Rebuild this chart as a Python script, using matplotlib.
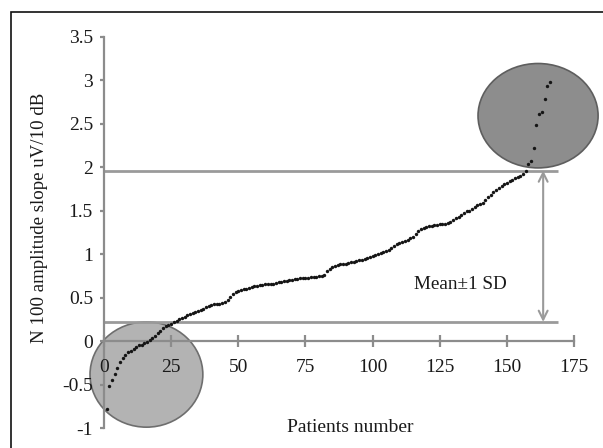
import matplotlib
matplotlib.use("Agg")
import matplotlib.pyplot as plt
from matplotlib.patches import Ellipse, Rectangle

plt.rcParams['font.family'] = ['Liberation Serif', 'DejaVu Serif']
plt.rcParams['axes.unicode_minus'] = False

# ---- data ----
slope_values = [
    -0.78, -0.52, -0.45, -0.38, -0.31, -0.24, -0.20, -0.16, -0.13, -0.11,
    -0.09, -0.07, -0.05, -0.04, -0.02, -0.01, 0.01, 0.03, 0.06, 0.09,
    0.12, 0.15, 0.17, 0.19, 0.20, 0.22, 0.23, 0.25, 0.27, 0.28,
    0.30, 0.31, 0.32, 0.33, 0.35, 0.36, 0.37, 0.39, 0.40, 0.41,
    0.42, 0.43, 0.43, 0.44, 0.45, 0.47, 0.51, 0.54, 0.56, 0.57,
    0.59, 0.60, 0.60, 0.61, 0.62, 0.63, 0.63, 0.64, 0.64, 0.65,
    0.65, 0.66, 0.66, 0.67, 0.68, 0.68, 0.69, 0.69, 0.70, 0.70,
    0.71, 0.71, 0.72, 0.72, 0.73, 0.73, 0.74, 0.74, 0.74, 0.75,
    0.75, 0.76, 0.80, 0.83, 0.85, 0.86, 0.87, 0.88, 0.88, 0.89,
    0.90, 0.91, 0.91, 0.92, 0.93, 0.93, 0.94, 0.96, 0.97, 0.98,
    0.99, 1.00, 1.01, 1.02, 1.03, 1.05, 1.07, 1.09, 1.11, 1.13,
    1.14, 1.15, 1.16, 1.18, 1.20, 1.23, 1.26, 1.29, 1.30, 1.31,
    1.32, 1.32, 1.33, 1.33, 1.34, 1.34, 1.35, 1.36, 1.37, 1.39,
    1.41, 1.43, 1.45, 1.47, 1.49, 1.50, 1.52, 1.54, 1.56, 1.57,
    1.59, 1.62, 1.65, 1.68, 1.71, 1.74, 1.76, 1.78, 1.80, 1.82,
    1.84, 1.85, 1.87, 1.88, 1.90, 1.92, 1.95, 2.04, 2.07, 2.22,
    2.48, 2.61, 2.63, 2.78, 2.93, 2.98,
]
patients = list(range(1, len(slope_values) + 1))

upper_sd = 1.96
lower_sd = 0.22
sd_line_end = 169
arrow_x = 163.5

x_ticks = [0, 25, 50, 75, 100, 125, 150, 175]
y_ticks = [-1, -0.5, 0, 0.5, 1, 1.5, 2, 2.5, 3, 3.5]
y_tick_labels = ['-1', '-0.5', '0', '0.5', '1', '1.5', '2', '2.5', '3', '3.5']

x_label = 'Patients number'
y_label = 'N 100 amplitude slope uV/10 dB'
annotation = 'Mean\u00b11 SD'

# ---- figure ----
fig = plt.figure(figsize=(6.03, 4.48), dpi=100)
ax = fig.add_axes([60 / 603, 3 / 448, 540 / 603, 425 / 448])
ax.set_xlim(-16.38, 184.66)
ax.set_ylim(-1.195, 3.690)

axis_gray = '#8c8c8c'
text_col = '#1a1a1a'
for s in ['top', 'right']:
    ax.spines[s].set_visible(False)
ax.spines['left'].set_position(('data', 0))
ax.spines['bottom'].set_position(('data', 0))
ax.spines['left'].set_bounds(-1, 3.5)
ax.spines['bottom'].set_bounds(0, 175)
for s in ['left', 'bottom']:
    ax.spines[s].set_color(axis_gray)
    ax.spines[s].set_linewidth(1.6)
    ax.spines[s].set_zorder(3)
ax.xaxis.set_zorder(5)
ax.yaxis.set_zorder(5)

ax.set_xticks(x_ticks)
ax.set_xticklabels([str(t) for t in x_ticks])
ax.set_yticks(y_ticks)
ax.set_yticklabels(y_tick_labels)
ax.tick_params(axis='x', direction='inout', length=8, width=1.6, color=axis_gray,
               labelsize=14, pad=9, labelcolor=text_col)
ax.tick_params(axis='y', direction='out', length=3, width=1.6, color=axis_gray,
               labelsize=14, pad=5, labelcolor=text_col)

# circles
ax.add_patch(Ellipse((15.8, -0.385), 42, 1.21, facecolor='#b3b3b3',
                     edgecolor='#6e6e6e', linewidth=1.2, zorder=2))
ax.add_patch(Ellipse((161.6, 2.59), 44.7, 1.20, facecolor='#8d8d8d',
                     edgecolor='#5e5e5e', linewidth=1.2, zorder=2))

# SD lines
line_gray = '#9a9a9a'
ax.plot([0, sd_line_end], [upper_sd, upper_sd], color=line_gray, lw=2.0, zorder=3,
        solid_capstyle='butt')
ax.plot([0, sd_line_end], [lower_sd, lower_sd], color=line_gray, lw=2.0, zorder=3,
        solid_capstyle='butt')
ax.annotate('', xy=(arrow_x, upper_sd), xytext=(arrow_x, lower_sd),
            arrowprops=dict(arrowstyle='<->', color=line_gray, lw=1.5,
                            mutation_scale=16, shrinkA=0, shrinkB=0), zorder=3)
ax.text(132.5, 0.655, annotation, ha='center', va='center', fontsize=13.8,
        color=text_col)

# points
ax.scatter(patients, slope_values, s=6, marker='o', color='#151515', zorder=4,
           linewidths=0)

# labels
fig.text(350 / 603, 1 - 427 / 448, x_label, ha='center', va='center',
         fontsize=14, color=text_col)
fig.text(40 / 603, 1 - 218 / 448, y_label, ha='center', va='center',
         rotation=90, fontsize=13.6, color=text_col)

# border
top = 1 - 12 / 448
fig.patches.append(Rectangle((11 / 603, -0.2), 1.2, top + 0.2,
                             transform=fig.transFigure, fill=False,
                             edgecolor='#111111', linewidth=1.2))

fig.savefig('out.png', dpi=100)
